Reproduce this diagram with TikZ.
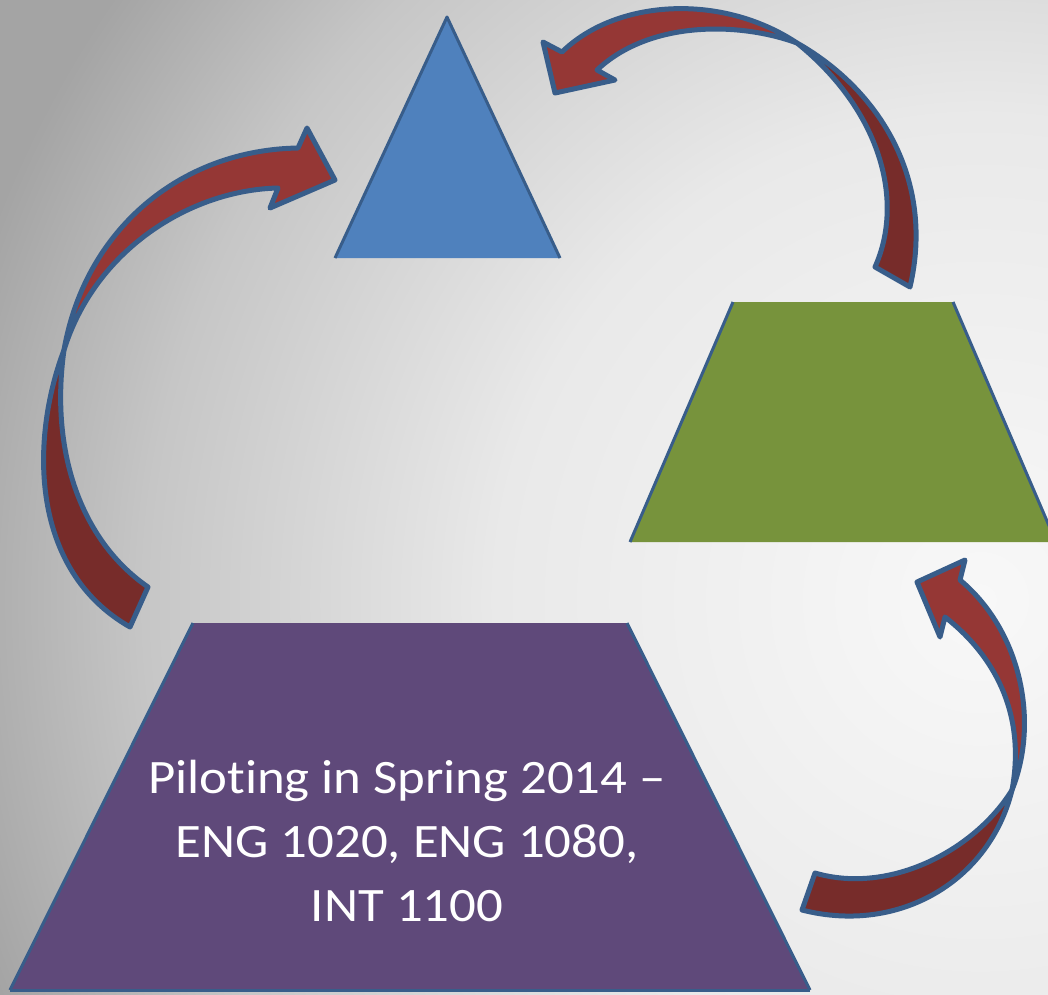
\documentclass[tikz,border=0pt]{standalone}
\usepackage{fontspec}
\setmainfont{Carlito}
\newfontfamily\pilotfont[FakeStretch=1.1, Ligatures=NoCommon]{Carlito}
\usepackage{tikz}
\definecolor{bgcenter}{HTML}{F8F8F8}
\definecolor{bgmid}{HTML}{E9E9E9}
\definecolor{bgouter}{HTML}{C6C6C6}
\definecolor{bgedge}{HTML}{A4A4A4}
\definecolor{capblue}{HTML}{4F81BD}
\definecolor{edgeblue}{HTML}{385D8A}
\definecolor{stagegreen}{HTML}{77933C}
\definecolor{basepurple}{HTML}{5F497A}
\definecolor{loopred}{HTML}{953735}
\definecolor{loopshade}{HTML}{772C2A}
\pgfdeclareradialshading{bgglow}{\pgfpoint{0bp}{0bp}}{%
  color(0bp)=(bgcenter); color(11bp)=(bgmid); color(19bp)=(bgouter);
  color(24bp)=(bgedge); color(50bp)=(bgedge)}

\begin{document}
\begin{tikzpicture}[x=1pt, y=-1pt, line join=round,
    front/.style={fill=loopred, draw=edgeblue, line width=5pt},
    back/.style={fill=loopshade, draw=edgeblue, line width=5pt},
    side/.style={draw=edgeblue, line width=3pt}]
  \useasboundingbox (0,0) rectangle (1048,994);
  % background glow
  \fill[bgedge] (0,0) rectangle (1048,994);
  \begin{scope}
    \clip (0,0) rectangle (1048,994);
    \shade[shading=bgglow] (980,600) ellipse [x radius=1100, y radius=1100];
  \end{scope}

  % three stages
  \fill[capblue] (335,258) -- (447,17) -- (560,258) -- cycle;
  \draw[side] (335,258) -- (447,17) -- (560,258);
  \fill[stagegreen] (630,542) -- (733,302) -- (953,302) -- (1056,542) -- cycle;
  \draw[side] (630,542) -- (733,302);
  \draw[side] (953,302) -- (1056,542);
  \fill[basepurple] (10,990) -- (193,623) -- (627,623) -- (810,990) -- cycle;
  \draw[side] (10,990) -- (193,623);
  \draw[side] (627,623) -- (810,990);
  \draw[side] (10,990) -- (810,990);

  \node[inner sep=0pt, align=center, text=white,
        font=\pilotfont\fontsize{48}{64}\selectfont] (pilot) at (407,841)
    {Piloting in Spring 2014 –\\ENG 1020, ENG 1080,\\INT 1100};

  % left loop arrow
  \coordinate (xl) at (64,350);
  \draw[back] (xl) .. controls (30,440) and (30,570) .. (130,627)
    -- (148,587) .. controls (80,540) and (50,450) .. (xl) -- cycle;
  \draw[front] (xl) .. controls (85,230) and (180,150) .. (298,148)
    -- (307,128) -- (335,180) -- (270,208) -- (278,188)
    .. controls (190,190) and (95,250) .. (xl) -- cycle;

  % top right loop arrow
  \coordinate (xt) at (797,43);
  \draw[back] (xt) .. controls (880,90) and (935,180) .. (910,287)
    -- (875,267) .. controls (905,200) and (880,110) .. (xt) -- cycle;
  \draw[front] (xt) .. controls (720,-8) and (615,0) .. (562,52)
    -- (543,42) -- (555,93) -- (615,80) -- (597,70)
    .. controls (650,20) and (740,22) .. (xt) -- cycle;

  % bottom right loop arrow
  \coordinate (xb) at (1012,790);
  \draw[back] (xb) .. controls (990,880) and (900,935) .. (802,910)
    -- (815,873) .. controls (890,895) and (975,850) .. (xb) -- cycle;
  \draw[front] (xb) .. controls (1040,720) and (1020,630) .. (960,580)
    -- (965,560) -- (917,582) -- (940,637) -- (945,617)
    .. controls (1000,660) and (1025,720) .. (xb) -- cycle;
\end{tikzpicture}
\end{document}
